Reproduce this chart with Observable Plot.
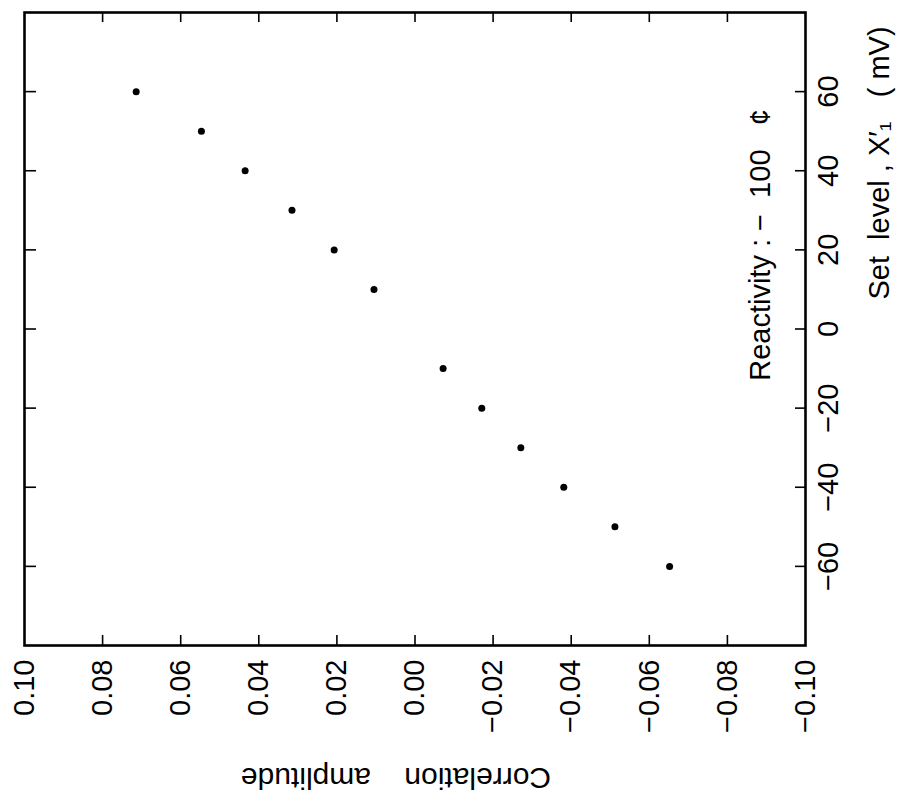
<!DOCTYPE html>
<html>
<head>
<meta charset="utf-8">
<script src="https://cdn.jsdelivr.net/npm/d3@7"></script>
<script src="https://cdn.jsdelivr.net/npm/@observablehq/plot@0.6"></script>
<style>
  html, body { margin: 0; padding: 0; background: #fff; }
  #chart { width: 897px; height: 801px; }
</style>
</head>
<body>
<div id="chart"></div>
<script>
// Set level X'1 (mV)
const setLevels = [60, 50, 40, 30, 20, 10, -10, -20, -30, -40, -50, -60];
// Correlation amplitude
const amplitudes = [0.0714, 0.0547, 0.0435, 0.0315, 0.0207, 0.0105, -0.0072, -0.0171, -0.0271, -0.0381, -0.0512, -0.0652];
// Tick values
const ampTicks = [0.10, 0.08, 0.06, 0.04, 0.02, 0.00, -0.02, -0.04, -0.06, -0.08, -0.10];
const levelTicks = [-60, -40, -20, 0, 20, 40, 60];
const ampDomain = [0.10, -0.10];
const levelDomain = [-80, 80];
const annotation = "Reactivity : \u2212\u00a0\u00a0100\u00a0\u00a0\u00a0\u00a2";
const levelLabel = "Set\u00a0\u00a0level , X\u2032\u2081\u00a0\u00a0\u00a0( mV)";
const ampLabel = "Correlation\u00a0\u00a0\u00a0\u00a0amplitude";

const points = setLevels.map((s, i) => ({level: s, amp: amplitudes[i]}));

const W = 897, H = 801;
const mL = 24, mR = 92, mT = 12, mB = 156;
const innerW = W - mL - mR, innerH = H - mT - mB;
const tickLen = 10;
const innerAmpTicks = ampTicks.slice(1, -1);

const chart = Plot.plot({
  width: W,
  height: H,
  marginLeft: mL,
  marginRight: mR,
  marginTop: mT,
  marginBottom: mB,
  style: {fontFamily: "'Liberation Sans', Arial, sans-serif", fontSize: "28px", color: "#000", background: "#fff"},
  x: {domain: ampDomain},
  y: {domain: levelDomain},
  marks: [
    // inward ticks
    Plot.ruleX(innerAmpTicks, {x: d => d, insetTop: innerH - tickLen, strokeWidth: 1.6, stroke: "#000"}),
    Plot.ruleX(innerAmpTicks, {x: d => d, insetBottom: innerH - tickLen, strokeWidth: 1.6, stroke: "#000"}),
    Plot.ruleY(levelTicks, {y: d => d, insetRight: innerW - 12, strokeWidth: 1.6, stroke: "#000"}),
    Plot.ruleY(levelTicks, {y: d => d, insetLeft: innerW - 10, strokeWidth: 1.6, stroke: "#000"}),
    Plot.frame({stroke: "#000", strokeWidth: 2.6}),
    Plot.axisX({
      anchor: "bottom", ticks: ampTicks, tickSize: 0, tickRotate: -90, tickPadding: 14,
      tickFormat: d3.format(".2f"), label: null, textAnchor: "end", lineAnchor: "middle", fontSize: 29
    }),
    Plot.axisY({
      anchor: "right", ticks: levelTicks, tickSize: 0, tickRotate: -90, tickPadding: 12,
      tickFormat: d3.format("d"), label: null, textAnchor: "middle", lineAnchor: "top", fontSize: 29
    }),
    Plot.dot(points, {x: "amp", y: "level", r: 3.5, fill: "#000", stroke: null}),
    Plot.text([annotation], {frameAnchor: "right", dx: -45, dy: -84, rotate: -90, fontSize: 29, textAnchor: "middle", lineAnchor: "middle"}),
    Plot.text([levelLabel], {frameAnchor: "right", dx: 74, dy: -166, rotate: -90, fontSize: 29, textAnchor: "middle", lineAnchor: "middle"}),
    Plot.text([ampLabel], {frameAnchor: "bottom", dx: -19, dy: 132, rotate: 180, fontSize: 30, textAnchor: "middle", lineAnchor: "middle"})
  ]
});
document.getElementById("chart").appendChild(chart);
</script>
</body>
</html>
